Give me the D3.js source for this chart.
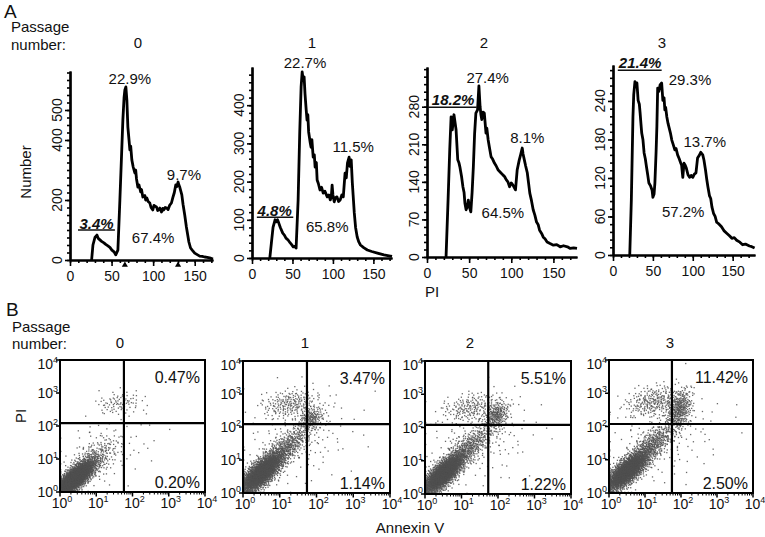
<!DOCTYPE html>
<html><head><meta charset="utf-8">
<script src="https://cdn.jsdelivr.net/npm/d3@7"></script>
<style>
body{margin:0;background:#fff}
svg{display:block}
text{font-family:"Liberation Sans",Arial,sans-serif;fill:#111}
</style>
</head><body><svg id="c" width="765" height="537"></svg>
<script>
// ---------------- DATA ----------------
const passages = ["0", "1", "2", "3"];

// Panel A: PI histograms, [PI value, Number]
const hist0 = [[26,0],[27.6,50],[30,75],[32.4,83],[34,72],[36,67],[38,62],[40.8,57],[43,52],[45.6,47],[48,42],[50.4,33],[53,27],[55,17],[57.6,33],[60,200],[63.6,467],[65,540],[66,567],[67.2,577],[68.4,533],[69.6,443],[71,400],[72,367],[73,380],[74.4,333],[76,310],[78,290],[79,300],[80,270],[81.6,243],[83,250],[85,227],[86,235],[87.6,210],[90,215],[91,200],[92.4,207],[94,195],[96,190],[97.5,175],[99.6,167],[101,182],[102,180],[104,177],[105.5,165],[108,173],[110,160],[111.5,172],[112.8,167],[114.5,175],[116.4,173],[118,168],[120,183],[122,190],[123.6,207],[125.5,225],[127.2,250],[128.5,245],[130,260],[131,250],[132,243],[134.5,217],[136,185],[138,150],[140,110],[141.6,83],[143,60],[145,40],[147,33],[150,23],[153,18],[156,13],[159,12],[162,10],[165,9],[168,7],[172,3]];
const hist1 = [[22,0],[24,40],[26,80],[28.5,100],[30,95],[31.5,100],[33,92],[35,80],[38,65],[40,60],[42,52],[44.6,47],[47,40],[49,35],[51,29],[53,31],[54.5,26],[57,152],[59,330],[60.7,448],[62,487],[63,470],[64.4,474],[65.5,430],[67,387],[68,361],[69,375],[70,330],[72,301],[73,290],[74,310],[75.6,264],[77,270],[78,238],[79.5,250],[80.5,204],[82,195],[84,178],[86,185],[88,170],[90,175],[93,160],[95,165],[96.7,152],[98,160],[99,191],[100,165],[101.6,147],[103,158],[105,160],[107,148],[109,152],[111,165],[112.8,160],[115,222],[116.5,210],[118,249],[120,264],[121,240],[122.6,257],[124,196],[126.4,118],[128,80],[130,55],[132,42],[134,34],[138,27],[142.5,21],[148,17],[155,13],[163,8],[171,5],[173,4]];
const hist2 = [[22.6,0],[25,106],[27,200],[28.6,261],[30,237],[32,265],[34.5,237],[36.5,181],[38,175],[39,168],[41,150],[42.6,131],[44,120],[45,100],[46.4,88],[48,95],[49,106],[50.5,92],[52,84],[53.5,120],[55,168],[56.5,230],[58,268],[60,274],[61.6,319],[63,280],[64,265],[65,256],[66.5,270],[68,268],[70,231],[71,240],[72.6,218],[74,205],[76,187],[78,182],[80,175],[82,170],[84.5,162],[87,158],[90,153],[92,150],[94,144],[96,140],[98,131],[100,138],[102,134],[105,125],[107,162],[109.5,181],[111,190],[113,203],[114,192],[115.5,181],[117,170],[119,157],[120.5,138],[122,119],[124,105],[126,88],[128,78],[130,65],[132,60],[133.6,50],[136,44],[138,37],[140,34],[142.5,28],[146,25],[150,22],[154,23],[158,19],[162,21],[166.6,19],[170,16],[174,17],[178,16]];
const hist3 = [[21,0],[23,86],[25,215],[26,250],[27.5,270],[29,262],[30,268],[31.5,241],[33,235],[34,221],[35,205],[36,190],[37.5,180],[39,159],[40.5,150],[42,137],[43.5,125],[45,112],[47,108],[49,101],[50,90],[51.5,95],[52.5,112],[54,160],[55,200],[56,260],[57.5,255],[59,265],[61,268],[62.5,241],[64,245],[65,226],[66,230],[67.5,215],[69,205],[70,200],[72,190],[73.7,179],[75.5,172],[77.5,164],[79,166],[81,156],[83,150],[85,143],[86,140],[87.5,121],[89,143],[90.5,140],[92,135],[94,125],[96,121],[98,124],[100,121],[102,126],[104,128],[106,151],[108,155],[110,160],[112.5,156],[114,148],[116,132],[117.5,118],[119,106],[121,92],[122.5,88],[124,75],[126,65],[128,60],[130,51],[133,48],[136,44],[139,38],[142.5,34],[146,30],[149,26],[152,27],[155,23],[159,20],[162.5,16],[166,17],[171,14],[174,13],[177.5,11]];
const hists = [hist0, hist1, hist2, hist3];

const xTicksA = [0, 50, 100, 150];
const yTicksA = [[0, 200, 400, 500], [0, 100, 200, 300, 400], [0, 70, 140, 210, 280], [0, 60, 120, 180, 240]];
const yMinorStepA = [25, 20, 14, 12];
const xMaxA = [172, 173, 178, 178];
const yMaxA = [630, 500, 354, 296];

const pctSubG1 = ["3.4%", "4.8%", "18.2%", "21.4%"];
const pctG1 = ["22.9%", "22.7%", "27.4%", "29.3%"];
const pctS = ["67.4%", "65.8%", "64.5%", "57.2%"];
const pctG2 = ["9.7%", "11.5%", "8.1%", "13.7%"];
const subG1Gate = [[9.6, 54, 100], [6, 51, 107], [1, 59, 279], [6, 61, 288]]; // [from, to, level]
const peakMarks0 = [66, 130];

// Panel B: Annexin V / PI dot plots
const xTicksB = [1, 10, 100, 1000, 10000];
const yTicksB = [1, 10, 100, 1000, 10000];
const gateX = [58, 55, 54, 56];
const gateY = [123, 123, 120, 119];
const pctUR = ["0.47%", "3.47%", "5.51%", "11.42%"];
const pctLR = ["0.20%", "1.14%", "1.22%", "2.50%"];
// dot clouds: [mean log10 AnnexinV, mean log10 PI, sd x, sd y, correlation, dot count]
const cloud0 = [[0.42,0.42,0.26,0.26,0.75,2600],[0.9,0.95,0.35,0.35,0.6,300],[1.65,2.7,0.32,0.17,0.2,90],[1.3,1.3,0.7,0.6,0.3,80]];
const cloud1 = [[0.5,0.6,0.3,0.32,0.75,2400],[1.2,1.4,0.35,0.35,0.75,450],[1.3,2.7,0.4,0.22,0.2,230],[1.85,2.25,0.17,0.17,0.3,170],[1.5,1.6,0.8,0.7,0.3,150]];
const cloud2 = [[0.5,0.6,0.28,0.3,0.75,2400],[1.2,1.4,0.35,0.35,0.75,450],[1.25,2.6,0.4,0.22,0.3,200],[1.95,2.35,0.17,0.22,0.3,260],[1.5,1.6,0.8,0.7,0.3,150]];
const cloud3 = [[0.5,0.65,0.3,0.3,0.75,2300],[1.2,1.45,0.35,0.35,0.75,500],[1.25,2.75,0.4,0.24,0.3,280],[1.95,2.5,0.17,0.3,0.3,380],[1.5,1.6,0.8,0.7,0.3,150]];
const clouds = [cloud0, cloud1, cloud2, cloud3];

// ---------------- LAYOUT ----------------
const boxA = [{l:70,r:213,t:71,b:260},{l:252,r:392,t:67,b:258},{l:427,r:577,t:67,b:257},{l:613,r:755,t:65,b:255}];
const titleXA = [138, 312, 484, 662];
// label anchors in data coords [PI, Number]
const labSub = [[32,104],[28,111],[31,283],[34,292]];
const labG1 = [[72,587],[65.5,497],[72,324],[96.5,265]];
const labG2 = [[137,267],[125,277],[119,212],[115,168]];
const labS = [[100,57],[93,68],[90,73],[88,59]];

const boxB = [{l:60,r:205,t:360,b:492},{l:243,r:390,t:361,b:493},{l:425,r:571,t:361,b:494},{l:609,r:753,t:360,b:493}];
const titleXB = [120, 305, 470, 670];

const svg = d3.select("#c");

// ---------------- PANEL A ----------------
svg.append("text").attr("x",4).attr("y",18).attr("font-size",19).text("A");
svg.append("text").attr("x",11).attr("y",32).attr("font-size",15).text("Passage");
svg.append("text").attr("x",11).attr("y",50).attr("font-size",15).text("number:");
svg.append("text").attr("transform","translate(31,172) rotate(-90)").attr("text-anchor","middle").attr("font-size",15).text("Number");
svg.append("text").attr("x",432).attr("y",297).attr("text-anchor","middle").attr("font-size",15).text("PI");

hists.forEach((h, i) => {
  const B = boxA[i];
  const x = d3.scaleLinear().domain([0, xMaxA[i]]).range([B.l, B.r]);
  const y = d3.scaleLinear().domain([0, yMaxA[i]]).range([B.b, B.t]);
  const g = svg.append("g");

  svg.append("text").attr("x", titleXA[i]).attr("y", 48).attr("text-anchor","middle").attr("font-size",15).text(passages[i]);

  const xm = g.append("g").attr("transform", `translate(0,${B.b})`)
    .call(d3.axisBottom(x).tickValues(d3.range(0, xMaxA[i], 10)).tickSize(3).tickSizeOuter(0).tickFormat(""));
  const ym = g.append("g").attr("transform", `translate(${B.l},0)`)
    .call(d3.axisLeft(y).tickValues(d3.range(0, yMaxA[i], yMinorStepA[i])).tickSize(3).tickSizeOuter(0).tickFormat(""));
  const xa = g.append("g").attr("transform", `translate(0,${B.b})`)
    .call(d3.axisBottom(x).tickValues(xTicksA).tickSize(6).tickSizeOuter(0).tickPadding(5));
  const ya = g.append("g").attr("transform", `translate(${B.l},0)`)
    .call(d3.axisLeft(y).tickValues(yTicksA[i]).tickSize(5).tickSizeOuter(0).tickFormat(""));
  [xm, ym, xa, ya].forEach(a => {
    a.select(".domain").attr("stroke","#000").attr("stroke-width",2.2);
    a.selectAll(".tick line").attr("stroke","#000").attr("stroke-width",1.6);
  });
  xa.selectAll("text").attr("font-size",14).attr("font-family",'"Liberation Sans",Arial,sans-serif').attr("fill","#111");
  g.selectAll(".ylab").data(yTicksA[i]).join("text")
    .attr("transform", d => `translate(${B.l - 8},${y(d)}) rotate(-90)`)
    .attr("text-anchor","middle").attr("font-size",14).text(d => d);

  g.append("path").datum(h)
    .attr("d", d3.line().x(d => x(d[0])).y(d => y(d[1])))
    .attr("fill","none").attr("stroke","#000").attr("stroke-width",2.8).attr("stroke-linejoin","round");

  const gt = subG1Gate[i];
  g.append("line").attr("x1", x(gt[0])).attr("x2", x(gt[1])).attr("y1", y(gt[2])).attr("y2", y(gt[2]))
    .attr("stroke","#111").attr("stroke-width",1.5);
  g.append("text").attr("x", x(labSub[i][0])).attr("y", y(labSub[i][1])).attr("text-anchor","middle")
    .attr("font-size",15).attr("font-weight","bold").attr("font-style","italic").text(pctSubG1[i]);
  [[labG1, pctG1], [labG2, pctG2], [labS, pctS]].forEach(([pos, txt]) => {
    g.append("text").attr("x", x(pos[i][0])).attr("y", y(pos[i][1])).attr("text-anchor","middle")
      .attr("font-size",15).text(txt[i]);
  });

  if (i === 0) {
    g.selectAll(".pk").data(peakMarks0).join("path")
      .attr("d", d3.symbol(d3.symbolTriangle, 16))
      .attr("transform", d => `translate(${x(d)},${B.b + 5})`).attr("fill","#000");
  }
});

// ---------------- PANEL B ----------------
svg.append("text").attr("x",6).attr("y",316).attr("font-size",19).text("B");
svg.append("text").attr("x",12).attr("y",332).attr("font-size",15).text("Passage");
svg.append("text").attr("x",12).attr("y",349).attr("font-size",15).text("number:");
svg.append("text").attr("transform","translate(26,416) rotate(-90)").attr("text-anchor","middle").attr("font-size",15).text("PI");
svg.append("text").attr("x",410).attr("y",533).attr("text-anchor","middle").attr("font-size",15).text("Annexin V");

function halton(i, b) { let f = 1, r = 0; while (i > 0) { f /= b; r += f * (i % b); i = Math.floor(i / b); } return r; }
let hIdx = 1;
function cloudDots(c) {
  const [mx, my, sx, sy, rho, n] = c; const out = [];
  for (let k = 0; k < n; k++, hIdx++) {
    const u1 = Math.max(halton(hIdx, 2), 1e-6), u2 = halton(hIdx, 3);
    const R = Math.sqrt(-2 * Math.log(u1));
    const z1 = R * Math.cos(2 * Math.PI * u2), z2 = R * Math.sin(2 * Math.PI * u2);
    let lx = mx + sx * z1, ly = my + sy * (rho * z1 + Math.sqrt(1 - rho * rho) * z2);
    lx = Math.min(3.98, Math.max(0.02, lx)); ly = Math.min(3.98, Math.max(0.02, ly));
    out.push([Math.pow(10, lx), Math.pow(10, ly)]);
  }
  return out;
}

function sup(sel, base, exp) {
  sel.append("tspan").text(base);
  sel.append("tspan").attr("font-size",9).attr("dy",-6).text(exp);
}

clouds.forEach((cl, i) => {
  const B = boxB[i];
  const x = d3.scaleLog().domain([1, 1e4]).range([B.l, B.r]);
  const y = d3.scaleLog().domain([1, 1e4]).range([B.b, B.t]);
  const g = svg.append("g");
  svg.append("text").attr("x", titleXB[i]).attr("y", 348).attr("text-anchor","middle").attr("font-size",15).text(passages[i]);

  const dots = cl.flatMap(cloudDots);
  g.append("g").selectAll("rect").data(dots).join("rect")
    .attr("x", d => x(d[0]) - 0.65).attr("y", d => y(d[1]) - 0.65)
    .attr("width", 1.3).attr("height", 1.3).attr("fill", "#505050").attr("fill-opacity", 0.85);

  const minors = [];
  for (let d = 0; d < 4; d++) for (let k = 2; k <= 9; k++) minors.push(k * Math.pow(10, d));
  g.selectAll(".mx").data(minors).join("line")
    .attr("x1", d => x(d)).attr("x2", d => x(d)).attr("y1", B.b).attr("y2", B.b + 2.5)
    .attr("stroke","#000").attr("stroke-width",1);
  g.selectAll(".Mx").data(xTicksB).join("line")
    .attr("x1", d => x(d)).attr("x2", d => x(d)).attr("y1", B.b).attr("y2", B.b + 4.5)
    .attr("stroke","#000").attr("stroke-width",1.5);
  g.selectAll(".My").data(yTicksB).join("line")
    .attr("x1", B.l - 4).attr("x2", B.l).attr("y1", d => y(d)).attr("y2", d => y(d))
    .attr("stroke","#000").attr("stroke-width",1.5);

  g.append("rect").attr("x", B.l).attr("y", B.t).attr("width", B.r - B.l).attr("height", B.b - B.t)
    .attr("fill","none").attr("stroke","#000").attr("stroke-width",2);
  g.append("line").attr("x1", x(gateX[i])).attr("x2", x(gateX[i])).attr("y1", B.t).attr("y2", B.b)
    .attr("stroke","#000").attr("stroke-width",2.2);
  g.append("line").attr("x1", B.l).attr("x2", B.r).attr("y1", y(gateY[i])).attr("y2", y(gateY[i]))
    .attr("stroke","#000").attr("stroke-width",2.2);

  xTicksB.forEach((v, k) => {
    const t = g.append("text").attr("x", x(v) + 2).attr("y", B.b + 16).attr("text-anchor","middle").attr("font-size",14);
    sup(t, "10", String(k));
  });
  yTicksB.forEach((v, k) => {
    const t = g.append("text").attr("x", B.l - 2).attr("y", y(v) + (k === 4 ? 9 : 5)).attr("text-anchor","end").attr("font-size",14);
    sup(t, "10", String(k));
  });

  g.append("text").attr("x", B.r - 5).attr("y", B.t + 23).attr("text-anchor","end").attr("font-size",16).text(pctUR[i]);
  g.append("text").attr("x", B.r - 5).attr("y", B.b - 4).attr("text-anchor","end").attr("font-size",16).text(pctLR[i]);
});
</script>
</body></html>
